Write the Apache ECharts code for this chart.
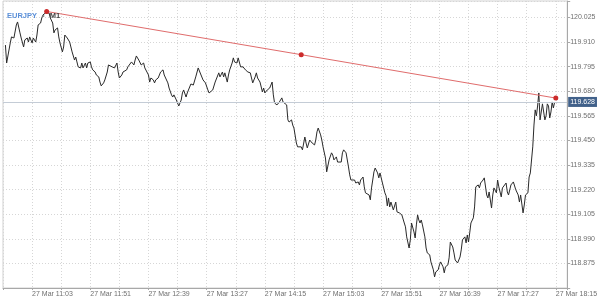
<!DOCTYPE html>
<html>
<head>
<meta charset="utf-8">
<script src="https://cdn.jsdelivr.net/npm/echarts@6/dist/echarts.min.js"></script>
<style>
html,body{margin:0;padding:0;background:#fff;}
#chart{width:600px;height:300px;}
</style>
</head>
<body>
<div id="chart"></div>
<script>
const times = ["10:41","10:42","10:45","10:46","10:48","10:50","10:51","10:52","10:53","10:54","10:56","10:57","10:59","11:00","11:01","11:03","11:04","11:06","11:07","11:08","11:10","11:11","11:12","11:14","11:15","11:17","11:18","11:20","11:21","11:22","11:24","11:25","11:26","11:28","11:29","11:30","11:32","11:34","11:35","11:36","11:38","11:39","11:40","11:41","11:43","11:44","11:45","11:47","11:48","11:49","11:51","11:52","11:53","11:55","11:56","11:58","11:59","12:00","12:02","12:03","12:05","12:06","12:07","12:09","12:10","12:11","12:13","12:14","12:15","12:17","12:18","12:19","12:21","12:22","12:23","12:25","12:27","12:28","12:29","12:31","12:32","12:33","12:35","12:36","12:37","12:39","12:40","12:41","12:43","12:44","12:45","12:47","12:48","12:49","12:51","12:52","12:53","12:55","12:56","12:58","12:59","13:00","13:02","13:03","13:04","13:06","13:07","13:08","13:10","13:11","13:12","13:14","13:15","13:16","13:18","13:20","13:21","13:24","13:25","13:26","13:28","13:29","13:30","13:32","13:34","13:37","13:38","13:40","13:41","13:42","13:44","13:45","13:46","13:48","13:49","13:50","13:52","13:53","13:55","13:56","13:57","13:59","14:00","14:01","14:03","14:04","14:05","14:07","14:08","14:09","14:11","14:13","14:14","14:15","14:17","14:18","14:19","14:21","14:22","14:23","14:25","14:26","14:27","14:29","14:30","14:31","14:33","14:34","14:35","14:37","14:38","14:39","14:41","14:42","14:43","14:45","14:46","14:48","14:49","14:50","14:52","14:53","14:54","14:56","14:57","14:58","14:59","15:01","15:02","15:03","15:05","15:06","15:08","15:10","15:11","15:12","15:14","15:15","15:16","15:18","15:19","15:20","15:22","15:23","15:24","15:25","15:26","15:27","15:29","15:30","15:32","15:33","15:34","15:36","15:37","15:38","15:39","15:41","15:42","15:43","15:44","15:45","15:46","15:48","15:49","15:50","15:52","15:54","15:55","15:56","15:57","15:58","15:59","16:01","16:02","16:03","16:04","16:06","16:07","16:08","16:10","16:11","16:12","16:14","16:15","16:16","16:18","16:19","16:20","16:21","16:22","16:23","16:24","16:25","16:27","16:28","16:29","16:31","16:32","16:34","16:35","16:36","16:38","16:39","16:40","16:42","16:43","16:44","16:46","16:47","16:48","16:50","16:51","16:52","16:54","16:56","16:57","16:58","17:00","17:01","17:02","17:03","17:04","17:05","17:07","17:08","17:09","17:11","17:12","17:13","17:15","17:16","17:18","17:19","17:20","17:22","17:23","17:24","17:26","17:27","17:28","17:30","17:31","17:32","17:34","17:35","17:36","17:38","17:40","17:41","17:42","17:44","17:45","17:46","17:48","17:49","17:50","17:52","17:53","17:54","17:56","17:57","17:58","17:59","18:00","18:01","18:02","18:03","18:04","18:05","18:06","18:07","18:08","18:09","18:10","18:11","18:12","18:13","18:14"];
const prices = [119.896,119.812,119.906,119.934,119.929,119.990,120.004,119.995,119.953,119.929,119.887,119.920,119.929,119.910,119.934,119.906,119.929,119.910,119.943,119.990,119.999,120.023,120.037,120.046,120.055,120.046,120.023,119.999,119.953,119.967,119.976,119.934,119.906,119.864,119.887,119.943,119.929,119.910,119.887,119.864,119.826,119.840,119.817,119.794,119.789,119.812,119.789,119.812,119.789,119.812,119.817,119.794,119.780,119.770,119.756,119.747,119.723,119.705,119.719,119.733,119.770,119.803,119.812,119.794,119.803,119.789,119.812,119.770,119.742,119.756,119.770,119.766,119.780,119.794,119.789,119.817,119.803,119.826,119.845,119.826,119.826,119.803,119.812,119.789,119.780,119.756,119.723,119.742,119.733,119.719,119.733,119.742,119.756,119.770,119.780,119.756,119.747,119.719,119.695,119.663,119.653,119.663,119.639,119.625,119.611,119.639,119.672,119.686,119.653,119.672,119.677,119.714,119.723,119.709,119.747,119.789,119.780,119.733,119.742,119.719,119.686,119.672,119.672,119.686,119.723,119.766,119.747,119.770,119.747,119.766,119.723,119.756,119.780,119.812,119.836,119.817,119.812,119.836,119.794,119.789,119.794,119.780,119.780,119.770,119.766,119.742,119.719,119.747,119.766,119.742,119.723,119.677,119.695,119.672,119.686,119.677,119.695,119.723,119.663,119.625,119.616,119.625,119.630,119.649,119.630,119.625,119.616,119.546,119.536,119.546,119.522,119.508,119.438,119.420,119.429,119.420,119.406,119.466,119.438,119.415,119.452,119.443,119.438,119.429,119.452,119.490,119.508,119.476,119.452,119.420,119.368,119.303,119.359,119.392,119.382,119.359,119.373,119.349,119.349,119.349,119.392,119.406,119.392,119.396,119.326,119.289,119.265,119.256,119.265,119.251,119.256,119.242,119.265,119.279,119.233,119.205,119.209,119.195,119.172,119.228,119.265,119.303,119.321,119.298,119.275,119.298,119.251,119.205,119.191,119.144,119.181,119.139,119.162,119.125,119.134,119.162,119.116,119.111,119.102,119.102,119.064,119.046,118.999,118.947,118.985,119.064,119.022,118.994,119.055,119.102,119.078,119.064,119.078,119.055,118.999,118.947,118.924,118.915,118.882,118.845,118.812,118.835,118.845,118.868,118.882,118.859,118.831,118.859,118.868,118.901,118.975,118.952,118.924,118.891,118.877,118.905,118.938,118.985,118.999,118.971,119.008,118.975,119.018,119.064,119.088,119.139,119.233,119.242,119.228,119.251,119.265,119.275,119.195,119.181,119.209,119.134,119.195,119.228,119.205,119.265,119.233,119.186,119.228,119.233,119.251,119.209,119.195,119.242,119.256,119.251,119.219,119.195,119.162,119.195,119.111,119.148,119.195,119.205,119.279,119.298,119.420,119.522,119.593,119.565,119.611,119.672,119.546,119.541,119.621,119.630,119.546,119.565,119.621,119.611,119.555,119.583,119.630,119.602,119.628];
const trendTimes = ["11:15","14:45","18:15"];
const trendPrices = [120.053, 119.851, 119.648];
const lastPrice = 119.628;
const yTicks = {min: 118.760, max: 120.102, step: 0.115};
const xTicks = {min: "10:39", max: 1104.4, step: 24, labelEvery: 48, first: "11:03"};
const dateLabel = "27 Mar";

function toMin(s){ const p = s.split(":"); return (+p[0])*60 + (+p[1]); }
function toHHMM(m){ m = Math.round(m); const h = Math.floor(m/60), mm = m%60; return (h<10?"0":"")+h+":"+(mm<10?"0":"")+mm; }

const mainData = times.map((t,i)=>[toMin(t), prices[i]]);
const trendData = trendTimes.map((t,i)=>[toMin(t), trendPrices[i]]);
const firstLabel = toMin(xTicks.first);

const FONT = "Liberation Sans";
const chart = echarts.init(document.getElementById('chart'), null, {renderer:'canvas'});
chart.setOption({
  animation: false,
  backgroundColor: '#ffffff',
  title: {
    text: '{a|EURJPY} {b|•} {c|M1}',
    left: 2, top: 2,
    textStyle: {
      rich: {
        a: {color:'#5a8fd8', fontSize:7.5, fontFamily:FONT},
        b: {color:'#8a8a8a', fontSize:7.5, fontFamily:FONT},
        c: {color:'#444444', fontSize:7.5, fontFamily:FONT}
      }
    }
  },
  grid: {left:1, right:29, top:1, bottom:12, show:true, borderColor:'#d0d0d0', borderWidth:1, backgroundColor:'#ffffff'},
  xAxis: {
    type:'value', min: toMin(xTicks.min), max: xTicks.max, interval: xTicks.step,
    axisLine:{show:true, lineStyle:{color:'#a8a8a8', width:1}},
    axisTick:{show:true, length:2, lineStyle:{color:'#a8a8a8'}},
    splitLine:{show:true, lineStyle:{color:'#d6d6d6', type:[1,2], width:1}},
    axisLabel:{
      show:true, align:'left', margin:3, fontSize:7, color:'#6f6f6f', fontFamily:FONT,
      showMinLabel:true, showMaxLabel:true, hideOverlap:false,
      formatter: function(v){
        const d = Math.round(v) - firstLabel;
        if (Math.abs(v - Math.round(v)) > 0.01) return '';
        if (d < 0 || d % xTicks.labelEvery !== 0) return '';
        return dateLabel + ' ' + toHHMM(v);
      }
    }
  },
  yAxis: {
    type:'value', position:'right', min: yTicks.min, max: yTicks.max, interval: yTicks.step, scale:true,
    axisLine:{show:true, lineStyle:{color:'#a8a8a8', width:1}},
    axisTick:{show:true, length:3, lineStyle:{color:'#a8a8a8'}},
    splitLine:{show:true, lineStyle:{color:'#d6d6d6', type:[1,2], width:1}},
    axisLabel:{
      show:true, margin:3, fontSize:7, color:'#6f6f6f', fontFamily:FONT, hideOverlap:false,
      formatter: function(v){ return (v > yTicks.min + 0.05 && v < yTicks.max - 0.03) ? v.toFixed(3) : ''; }
    }
  },
  series: [
    {
      type:'line', data: mainData, showSymbol:false, symbol:'none',
      lineStyle:{color:'#2a2a2a', width:1}, z:3,
      markLine:{
        silent:true, symbol:['none','none'], animation:false,
        lineStyle:{color:'#c4ccd6', type:'solid', width:1},
        label:{show:true, position:'end', distance:1, formatter: function(){ return lastPrice.toFixed(3); },
          color:'#ffffff', backgroundColor:'#41618a', fontSize:7, fontFamily:FONT, padding:[2,2,1,2]},
        data:[{yAxis:lastPrice}]
      }
    },
    {
      type:'line', data: trendData, symbol:'circle', symbolSize:5, showSymbol:true,
      lineStyle:{color:'#e06c6c', width:1}, itemStyle:{color:'#cc2b2b'}, z:4
    }
  ]
});
</script>
</body>
</html>
